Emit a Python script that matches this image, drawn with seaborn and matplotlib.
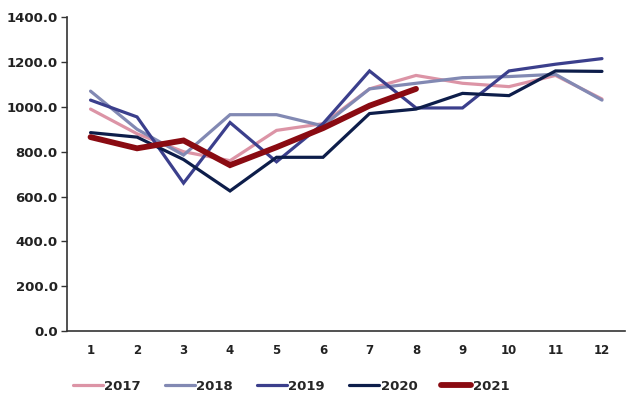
import numpy as np
import pandas as pd
import matplotlib
matplotlib.use('Agg')
import matplotlib.pyplot as plt
from matplotlib.ticker import MultipleLocator, FormatStrFormatter
import seaborn as sns

# monthly values
months = list(range(1, 13))
y2017 = [990, 880, 800, 760, 895, 925, 1080, 1140, 1105, 1090, 1140, 1035]
y2018 = [1070, 900, 785, 965, 965, 915, 1080, 1105, 1130, 1135, 1145, 1030]
y2019 = [1030, 955, 660, 930, 755, 925, 1160, 995, 995, 1160, 1190, 1215]
y2020 = [885, 865, 765, 625, 775, 775, 970, 990, 1060, 1050, 1160, 1158]
y2021 = [865, 815, 850, 740, 820, 905, 1005, 1080]

years = ['2017', '2018', '2019', '2020', '2021']
colors = {'2017': '#dc94a6', '2018': '#8289b3', '2019': '#3b3f8c',
          '2020': '#0d1d4a', '2021': '#8a0b12'}
widths = {'2017': 2.3, '2018': 2.3, '2019': 2.3, '2020': 2.3, '2021': 4.2}

rows = []
for yr, vals in zip(years, [y2017, y2018, y2019, y2020, y2021]):
    for m, v in zip(months, vals):
        rows.append({'month': m, 'value': v, 'year': yr})
df = pd.DataFrame(rows)

sns.set_style('white')
plt.rcParams['font.family'] = ['Liberation Sans Narrow', 'DejaVu Sans']

fig = plt.figure(figsize=(6.29, 3.98), dpi=100)
ax = fig.add_axes([0.107, 0.168, 0.887, 0.789])

for yr in years:
    sns.lineplot(data=df[df['year'] == yr], x='month', y='value', color=colors[yr],
                 linewidth=widths[yr], label=yr, ax=ax, solid_joinstyle='miter')

ax.set_xlim(0.5, 12.5)
ax.set_ylim(0, 1400)
ax.yaxis.set_major_locator(MultipleLocator(200))
ax.yaxis.set_major_formatter(FormatStrFormatter('%.1f'))
ax.set_xticks(months)
ax.set_xticklabels([str(m) for m in months])
ax.set_xticks(np.arange(0.5, 13, 1), minor=True)
ax.tick_params(axis='x', which='major', length=0, pad=9, labelsize=8.5)
ax.tick_params(axis='x', which='minor', length=5, direction='inout', width=1, color='#333333')
ax.tick_params(axis='y', which='major', length=4, direction='out', width=1, color='#333333',
               labelsize=9.5, left=True, pad=3)
for lab in ax.get_xticklabels() + ax.get_yticklabels():
    lab.set_fontweight('bold')
    lab.set_color('#222222')
ax.set_xlabel('')
ax.set_ylabel('')
for s in ['top', 'right']:
    ax.spines[s].set_visible(False)
for s in ['left', 'bottom']:
    ax.spines[s].set_color('#333333')
    ax.spines[s].set_linewidth(1.2)

handles, labels = ax.get_legend_handles_labels()
ax.get_legend().remove()
fig.legend(handles, labels, loc='center left', bbox_to_anchor=(66 / 629, 1 - 386 / 398),
           ncol=5, frameon=False, borderpad=0, handlelength=2.3, handletextpad=0.1,
           columnspacing=1.8, prop={'weight': 'bold', 'size': 9.5})

fig.savefig('out.png', dpi=100)
